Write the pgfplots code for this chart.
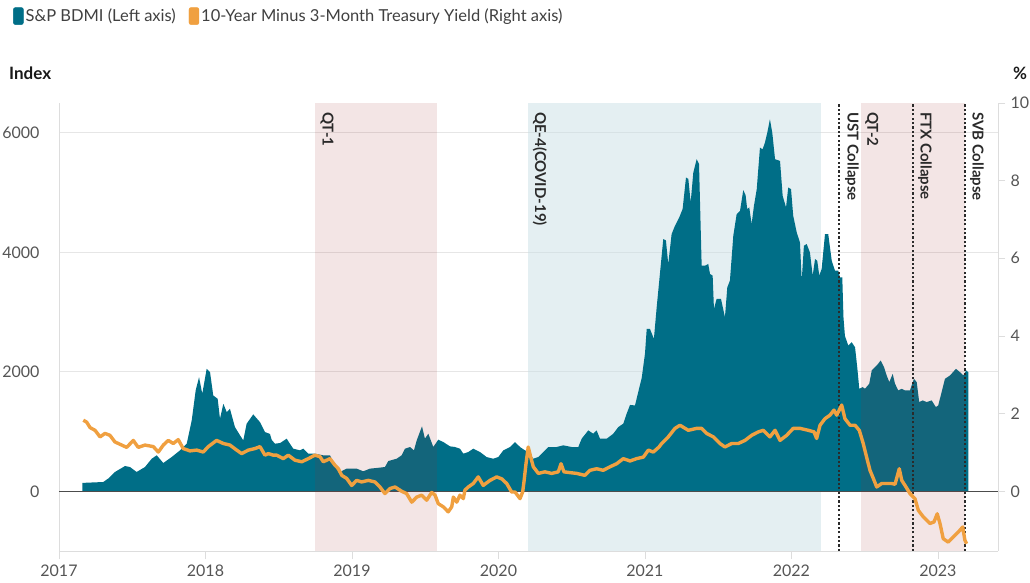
\documentclass[border=0pt]{standalone}
\usepackage{pgfplots}
\pgfplotsset{compat=1.18}
\usepackage{fontspec}
\setmainfont{Lato}
\definecolor{bdmi}{HTML}{006E87}
\definecolor{yld}{HTML}{F0A040}
\definecolor{qe}{HTML}{C9DFE5}
\definecolor{qt}{RGB}{160,40,40}
\definecolor{gridc}{HTML}{E6E6E6}
\definecolor{axc}{HTML}{DDDDDD}
\definecolor{tickc}{HTML}{555555}
\definecolor{lab}{HTML}{2A2A2A}
\begin{document}
\begin{tikzpicture}
\useasboundingbox (-59pt,-32pt) rectangle (971pt,551pt);
\begin{axis}[
  at={(0pt,0pt)}, anchor=south west, scale only axis,
  width=939pt, height=448pt,
  xmin=2017, xmax=2023.41, ymin=-1000, ymax=6500,
  axis x line*=bottom, axis y line*=left,
  axis line style={draw=axc, line width=0.8pt, -},
  xtick={2017,2018,2019,2020,2021,2022,2023},
  xticklabels={2017,2018,2019,2020,2021,2022,2023},
  ytick={0,2000,4000,6000},
  yticklabels={0,2000,4000,6000},
  ymajorgrids, grid style={draw=gridc, line width=0.8pt},
  xtick style={draw=axc, line width=0.8pt},
  ytick style={draw=none},
  tick align=outside, major tick length=8pt,
  tick label style={font=\fontsize{16}{19}\selectfont, text=tickc},
  yticklabel style={xshift=-8pt},
  xticklabel style={yshift=-2pt},
]
% QE-4 region (behind)
\fill[qe, opacity=0.5] (axis cs:2020.203,-1000) rectangle (axis cs:2022.201,6500);
% S&P BDMI
\addplot[fill=bdmi, draw=none] table[x=x, y=y] {
x y
2017.159 0
2017.159 140
2017.302 155
2017.337 215
2017.382 323
2017.451 423
2017.485 405
2017.530 323
2017.587 406
2017.633 545
2017.667 602
2017.712 473
2017.769 573
2017.826 685
2017.872 797
2017.906 1186
2017.933 1688
2017.956 1910
2017.978 1632
2018.008 2050
2018.031 1994
2018.053 1604
2018.083 1549
2018.099 1214
2018.122 1465
2018.145 1325
2018.167 1381
2018.201 1075
2018.236 936
2018.258 852
2018.281 1131
2018.326 1287
2018.372 1158
2018.406 991
2018.440 960
2018.452 860
2018.474 797
2018.509 807
2018.554 880
2018.599 713
2018.645 685
2018.668 713
2018.702 630
2018.747 630
2018.804 602
2018.850 602
2018.884 434
2018.918 323
2018.964 379
2019.032 379
2019.077 334
2019.123 379
2019.169 390
2019.225 406
2019.248 506
2019.305 545
2019.339 602
2019.362 713
2019.396 741
2019.423 685
2019.442 852
2019.459 964
2019.478 1086
2019.498 880
2019.521 964
2019.555 741
2019.589 863
2019.623 825
2019.669 752
2019.703 741
2019.737 713
2019.760 630
2019.794 657
2019.828 713
2019.874 657
2019.919 573
2019.965 545
2019.999 573
2020.033 685
2020.079 741
2020.113 824
2020.147 741
2020.181 685
2020.203 657
2020.238 545
2020.272 573
2020.306 657
2020.340 741
2020.397 741
2020.442 769
2020.500 741
2020.545 741
2020.568 880
2020.613 1019
2020.647 964
2020.670 1019
2020.693 880
2020.739 880
2020.784 964
2020.818 1075
2020.852 1131
2020.875 1298
2020.898 1445
2020.932 1437
2020.954 1660
2020.978 1900
2021.000 2301
2021.012 2719
2021.034 2719
2021.061 2551
2021.080 3080
2021.102 3638
2021.125 4223
2021.143 4200
2021.159 3805
2021.182 4306
2021.205 4445
2021.234 4584
2021.257 4724
2021.280 5252
2021.296 5230
2021.312 4835
2021.330 5336
2021.353 5559
2021.369 5480
2021.387 3777
2021.410 3777
2021.432 3805
2021.444 3638
2021.462 3610
2021.471 3052
2021.489 3220
2021.519 3220
2021.546 2913
2021.562 3414
2021.580 3526
2021.603 4278
2021.626 4640
2021.649 4696
2021.671 5041
2021.687 4958
2021.698 4724
2021.712 4752
2021.728 4473
2021.744 4780
2021.763 5058
2021.785 5753
2021.803 5725
2021.819 5837
2021.835 6004
2021.853 6227
2021.869 6004
2021.888 5559
2021.922 5530
2021.940 4946
2021.963 4752
2021.978 5085
2021.997 5058
2022.012 4612
2022.036 4333
2022.058 4166
2022.070 3526
2022.085 4111
2022.104 4139
2022.126 3999
2022.145 3610
2022.161 3888
2022.176 3860
2022.190 3610
2022.206 3720
2022.229 4306
2022.251 4306
2022.275 3860
2022.297 3693
2022.320 3693
2022.331 3582
2022.347 3582
2022.355 2913
2022.365 2600
2022.388 2440
2022.411 2496
2022.434 2412
2022.449 2077
2022.463 1716
2022.486 1743
2022.502 1716
2022.531 1800
2022.548 2022
2022.582 2105
2022.609 2189
2022.632 2077
2022.650 1938
2022.668 1827
2022.691 1966
2022.707 1800
2022.729 1688
2022.753 1716
2022.775 1688
2022.809 1688
2022.836 1883
2022.855 1827
2022.872 1493
2022.896 1521
2022.923 1493
2022.957 1521
2022.986 1409
2023.002 1437
2023.025 1660
2023.048 1883
2023.082 1938
2023.123 2050
2023.150 1994
2023.173 1938
2023.193 2022
2023.207 1994
2023.207 0
} \closedcycle;
% zero line
\draw[draw=black!70, line width=1pt] (axis cs:2017,0) -- (axis cs:2023.41,0);
% QT regions (over the area)
\fill[qt, opacity=0.12] (axis cs:2018.747,-1000) rectangle (axis cs:2019.578,6500);
\fill[qt, opacity=0.12] (axis cs:2022.472,-1000) rectangle (axis cs:2023.184,6500);
% event lines
\draw[lab, line width=2.2pt, dash pattern=on 2.2pt off 2.2pt] (axis cs:2022.326,-1000) -- (axis cs:2022.326,6500);
\draw[lab, line width=2.2pt, dash pattern=on 2.2pt off 2.2pt] (axis cs:2022.832,-1000) -- (axis cs:2022.832,6500);
\draw[lab, line width=2.2pt, dash pattern=on 2.2pt off 2.2pt] (axis cs:2023.184,-1000) -- (axis cs:2023.184,6500);
% labels
\tikzset{evlab/.style={rotate=-90, anchor=west, inner sep=0pt, text=lab, font=\bfseries\fontsize{15}{17}\selectfont}}
\node[evlab] at (axis cs:2018.829,6350) {QT-1};
\node[evlab] at (axis cs:2020.283,6350) {QE-4(COVID-19)};
\node[evlab] at (axis cs:2022.413,6350) {UST Collapse};
\node[evlab] at (axis cs:2022.549,6350) {QT-2};
\node[evlab] at (axis cs:2022.911,6350) {FTX Collapse};
\node[evlab] at (axis cs:2023.266,6350) {SVB Collapse};
\end{axis}
\begin{axis}[
  at={(0pt,0pt)}, anchor=south west, scale only axis,
  width=939pt, height=448pt,
  xmin=2017, xmax=2023.41, ymin=-1.5385, ymax=10,
  axis x line=none, axis y line*=right,
  axis line style={draw=axc, line width=0.8pt, -},
  ytick={0,2,4,6,8,10},
  yticklabels={0,2,4,6,8,10},
  ytick style={draw=axc, line width=0.8pt},
  tick align=outside, major tick length=7pt,
  tick label style={font=\fontsize{16}{19}\selectfont, text=tickc},
  yticklabel style={xshift=2pt},
  legend style={at={(axis description cs:-0.0522,1.194)}, anchor=west, draw=none, fill=none,
    font=\fontsize{16.5}{19}\selectfont, text=black!75,
    /tikz/every even column/.append style={column sep=11pt}},
  legend columns=2, legend cell align=left,
]
\addlegendimage{legend image code/.code={\fill[bdmi, rounded corners=2pt] (0pt,-8.5pt) rectangle (10pt,8.5pt);}}
\addlegendentry{S\&P BDMI (Left axis)}
\addlegendimage{legend image code/.code={\fill[yld, rounded corners=2pt] (0pt,-8.5pt) rectangle (10pt,8.5pt);}}
\addlegendentry{10-Year Minus 3-Month Treasury Yield (Right axis)}
\addplot[draw=yld, line width=3.4pt, line join=round, forget plot] table[x=x, y=y] {
x y
2017.166 1.83
2017.189 1.78
2017.212 1.64
2017.246 1.57
2017.280 1.40
2017.314 1.49
2017.348 1.44
2017.382 1.27
2017.428 1.19
2017.462 1.13
2017.507 1.31
2017.541 1.13
2017.587 1.19
2017.644 1.15
2017.678 1.01
2017.712 1.19
2017.746 1.31
2017.780 1.23
2017.814 1.33
2017.848 1.10
2017.894 1.04
2017.940 1.06
2017.985 1.01
2018.019 1.15
2018.076 1.31
2018.122 1.23
2018.167 1.19
2018.213 1.06
2018.247 0.97
2018.292 1.06
2018.338 1.10
2018.372 1.15
2018.406 0.93
2018.429 0.97
2018.463 0.93
2018.486 0.93
2018.531 0.84
2018.565 0.93
2018.611 0.80
2018.657 0.76
2018.702 0.84
2018.747 0.93
2018.782 0.89
2018.804 0.76
2018.850 0.84
2018.884 0.67
2018.907 0.58
2018.930 0.41
2018.964 0.33
2018.998 0.15
2019.032 0.28
2019.066 0.24
2019.111 0.28
2019.157 0.24
2019.191 0.11
2019.225 -0.06
2019.259 0.07
2019.294 0.11
2019.339 0.00
2019.373 -0.06
2019.408 -0.28
2019.442 -0.15
2019.476 -0.10
2019.510 -0.23
2019.544 -0.03
2019.567 -0.10
2019.589 -0.32
2019.623 -0.40
2019.657 -0.53
2019.681 -0.40
2019.692 -0.15
2019.715 -0.28
2019.737 -0.10
2019.760 -0.19
2019.771 0.03
2019.794 0.11
2019.828 0.20
2019.862 0.37
2019.896 0.15
2019.942 0.28
2019.988 0.37
2020.022 0.32
2020.056 0.20
2020.090 -0.02
2020.113 -0.02
2020.147 -0.19
2020.165 -0.02
2020.174 0.24
2020.188 0.71
2020.203 1.14
2020.220 0.88
2020.238 0.63
2020.272 0.46
2020.317 0.50
2020.363 0.46
2020.408 0.50
2020.427 0.71
2020.447 0.50
2020.488 0.48
2020.534 0.46
2020.590 0.41
2020.625 0.54
2020.670 0.58
2020.715 0.54
2020.761 0.63
2020.807 0.71
2020.852 0.84
2020.898 0.78
2020.943 0.84
2020.989 0.88
2021.023 1.06
2021.057 1.01
2021.096 1.14
2021.114 1.23
2021.159 1.40
2021.205 1.62
2021.239 1.70
2021.296 1.57
2021.353 1.62
2021.387 1.62
2021.421 1.49
2021.467 1.40
2021.512 1.23
2021.546 1.14
2021.592 1.23
2021.637 1.23
2021.683 1.31
2021.728 1.44
2021.774 1.53
2021.808 1.57
2021.853 1.40
2021.888 1.57
2021.922 1.31
2021.967 1.44
2022.012 1.62
2022.058 1.62
2022.115 1.57
2022.154 1.53
2022.172 1.36
2022.195 1.70
2022.229 1.87
2022.263 1.96
2022.290 2.09
2022.309 1.96
2022.343 2.22
2022.365 1.87
2022.400 1.70
2022.434 1.70
2022.463 1.57
2022.490 1.23
2022.513 0.88
2022.536 0.54
2022.559 0.33
2022.582 0.11
2022.616 0.20
2022.650 0.20
2022.684 0.20
2022.707 0.18
2022.736 0.58
2022.753 0.28
2022.782 0.11
2022.809 -0.06
2022.843 -0.19
2022.866 -0.49
2022.900 -0.66
2022.945 -0.83
2022.973 -0.79
2022.995 -0.58
2023.014 -0.83
2023.036 -1.22
2023.070 -1.31
2023.104 -1.18
2023.139 -1.05
2023.169 -0.92
2023.184 -1.26
2023.196 -1.35
};
\end{axis}
\node[anchor=west, inner sep=0pt, font=\bfseries\fontsize{17}{20}\selectfont, text=black!90] at (-50pt,478pt) {Index};
\node[anchor=west, inner sep=0pt, font=\bfseries\fontsize{17}{20}\selectfont, text=black!90] at (954pt,478pt) {\%};
\end{tikzpicture}
\end{document}
